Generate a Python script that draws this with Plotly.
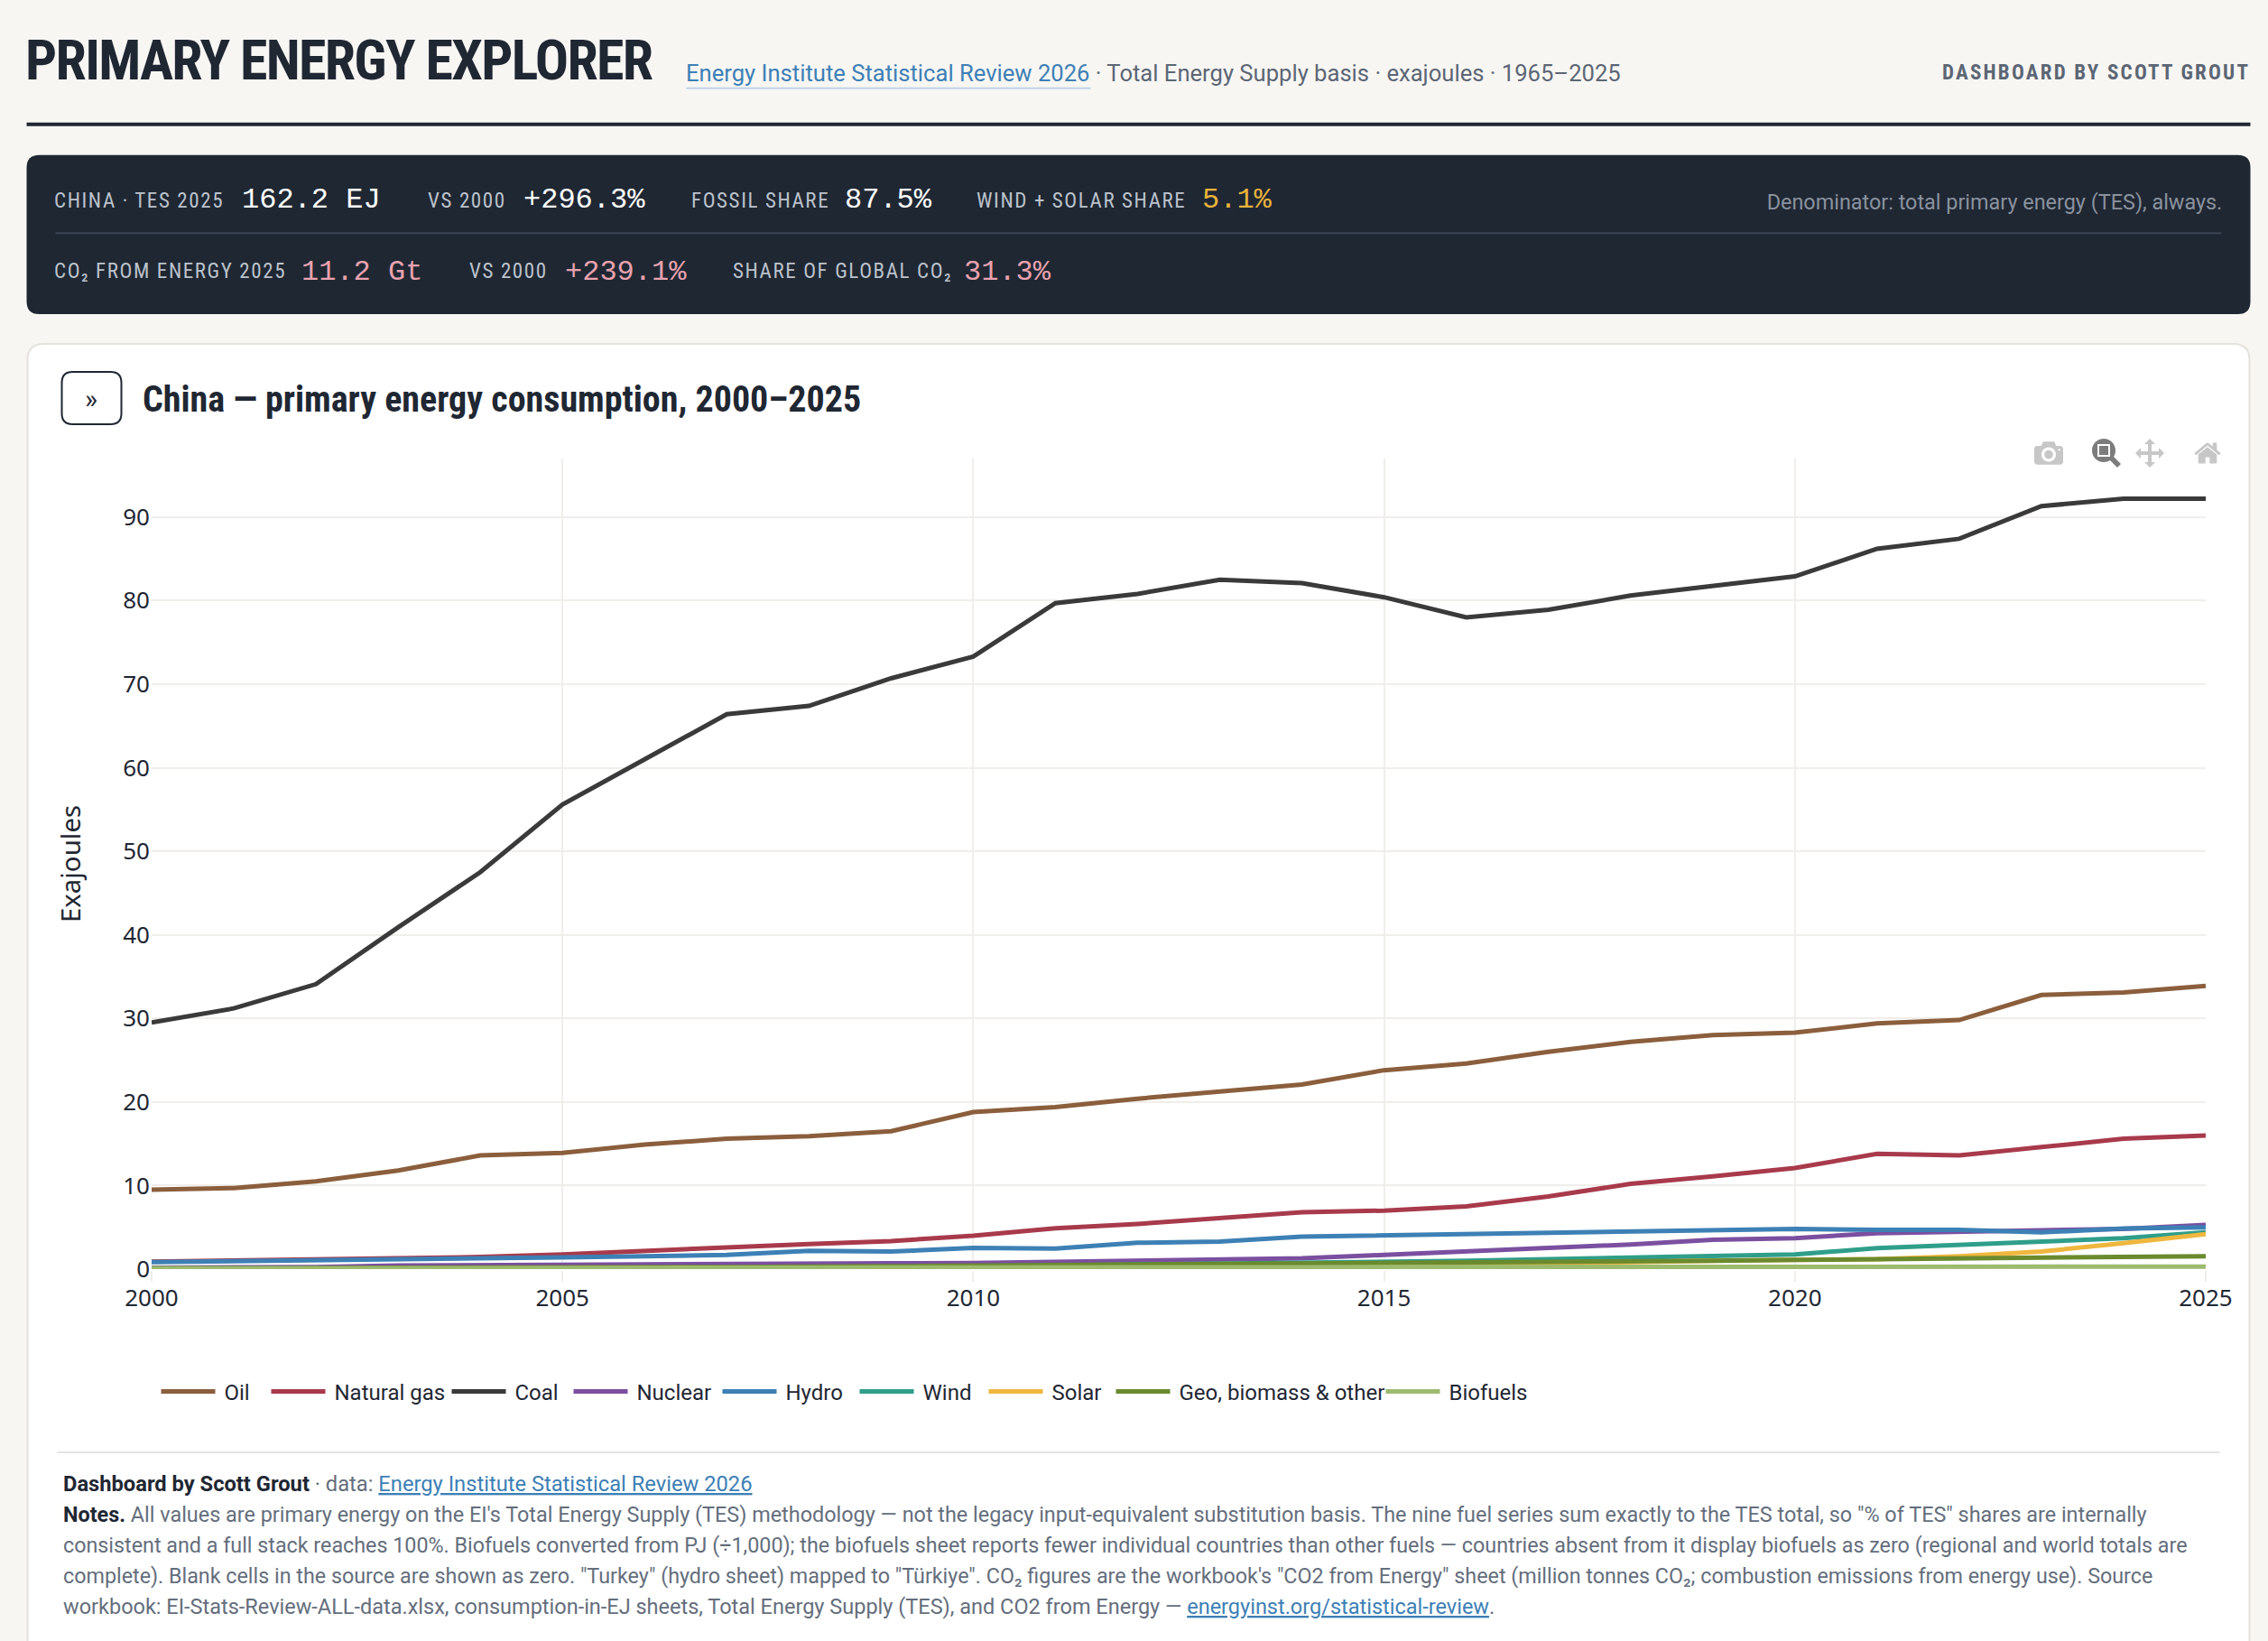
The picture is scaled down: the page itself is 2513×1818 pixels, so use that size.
import plotly.graph_objects as go

years = list(range(2000, 2026))
oil = [9.5, 9.7, 10.5, 11.8, 13.6, 13.9, 14.9, 15.6, 15.9, 16.5, 18.8, 19.4, 20.4, 21.3, 22.1, 23.8, 24.6, 26.0, 27.2, 28.0, 28.3, 29.4, 29.8, 32.8, 33.1, 33.9]
gas = [0.9, 1.0, 1.1, 1.25, 1.45, 1.75, 2.1, 2.6, 3.0, 3.35, 4.0, 4.9, 5.4, 6.1, 6.8, 7.0, 7.5, 8.7, 10.2, 11.1, 12.1, 13.8, 13.6, 14.6, 15.6, 16.0]
coal = [29.5, 31.2, 34.1, 40.9, 47.5, 55.6, 61.0, 66.4, 67.4, 70.7, 73.3, 79.7, 80.8, 82.5, 82.1, 80.4, 78.0, 78.9, 80.6, 81.8, 82.9, 86.2, 87.4, 91.3, 92.2, 92.2]
nuclear = [0.17, 0.18, 0.25, 0.43, 0.5, 0.53, 0.55, 0.62, 0.68, 0.7, 0.74, 0.86, 0.97, 1.1, 1.3, 1.7, 2.1, 2.5, 2.95, 3.5, 3.7, 4.3, 4.55, 4.65, 4.8, 5.3]
hydro = [0.85, 0.95, 1.0, 1.05, 1.25, 1.4, 1.55, 1.7, 2.2, 2.1, 2.55, 2.45, 3.15, 3.3, 3.9, 4.05, 4.2, 4.25, 4.45, 4.6, 4.8, 4.7, 4.7, 4.4, 4.85, 5.0]
wind = [0.0, 0.0, 0.0, 0.0, 0.01, 0.02, 0.04, 0.05, 0.1, 0.2, 0.3, 0.45, 0.58, 0.75, 0.84, 0.9, 1.0, 1.2, 1.4, 1.55, 1.75, 2.5, 2.85, 3.3, 3.7, 4.4]
solar = [0.0, 0.0, 0.0, 0.0, 0.0, 0.0, 0.0, 0.0, 0.0, 0.0, 0.01, 0.03, 0.06, 0.14, 0.21, 0.37, 0.6, 0.8, 0.94, 1.0, 1.1, 1.2, 1.55, 2.1, 3.1, 4.2]
geo = [0.1, 0.1, 0.12, 0.13, 0.14, 0.16, 0.2, 0.25, 0.3, 0.35, 0.4, 0.45, 0.5, 0.55, 0.6, 0.65, 0.72, 0.8, 0.9, 1.0, 1.1, 1.2, 1.25, 1.35, 1.45, 1.55]
biofuels = [0.08, 0.08, 0.08, 0.08, 0.1, 0.12, 0.13, 0.14, 0.16, 0.17, 0.18, 0.2, 0.2, 0.22, 0.23, 0.25, 0.25, 0.26, 0.27, 0.27, 0.28, 0.28, 0.28, 0.28, 0.29, 0.3]

fuel_names = ["Oil", "Natural gas", "Coal", "Nuclear", "Hydro", "Wind", "Solar", "Geo, biomass & other", "Biofuels"]
fuel_values = [oil, gas, coal, nuclear, hydro, wind, solar, geo, biofuels]
fuel_colors = ["#8b5e3c", "#a83a4b", "#3a3a3a", "#7b4fa0", "#3d80b5", "#2f9e8a", "#efb73e", "#6b8a2e", "#9dbb6f"]
legend_x = [168, 290, 490, 625, 790, 942, 1085, 1226, 1525]

kpi_row1 = [("CHINA · TES 2025", "162.2 EJ", "#ffffff"), ("VS 2000", "+296.3%", "#ffffff"),
            ("FOSSIL SHARE", "87.5%", "#ffffff"), ("WIND + SOLAR SHARE", "5.1%", "#e9b33d")]
kpi_row2 = [("CO₂ FROM ENERGY 2025", "11.2 Gt", "#e8a2ae"), ("VS 2000", "+239.1%", "#e8a2ae"),
            ("SHARE OF GLOBAL CO₂", "31.3%", "#e8a2ae")]
kpi_row1_x = [(61, 268), (474, 580), (766, 936), (1083, 1333)]
kpi_row2_x = [(61, 335), (521, 627), (813, 1069)]

BLUE = '<span style="color:#3d80b5;text-decoration:underline">%s</span>'
note_lines = [
    "<b style='color:#1f2733'>Dashboard by Scott Grout</b> · data: " + BLUE % "Energy Institute Statistical Review 2026",
    "<b style='color:#1f2733'>Notes.</b> All values are primary energy on the EI's Total Energy Supply (TES) methodology — not the legacy input-equivalent substitution basis. The nine fuel series sum exactly to the TES total, so \"% of TES\" shares are internally",
    "consistent and a full stack reaches 100%. Biofuels converted from PJ (÷1,000); the biofuels sheet reports fewer individual countries than other fuels — countries absent from it display biofuels as zero (regional and world totals are",
    "complete). Blank cells in the source are shown as zero. \"Turkey\" (hydro sheet) mapped to \"Türkiye\". CO₂ figures are the workbook's \"CO2 from Energy\" sheet (million tonnes CO₂; combustion emissions from energy use). Source",
    "workbook: EI-Stats-Review-ALL-data.xlsx, consumption-in-EJ sheets, Total Energy Supply (TES), and CO2 from Energy — " + BLUE % "energyinst.org/statistical-review" + ".",
]
note_y = [1644, 1677.5, 1711.5, 1745.5, 1780]
note_size = [11.85, 11.7, 11.65, 11.65, 11.75]

# reference is a 2x screenshot, so the figure is built at half size and scaled up in the page
W, H = 2513, 1818
L, R, T, B = 167.5, 2443.5, 508, 1405.5

SANS = "Noto Sans"
BODY = "Roboto"
NARROW = "Roboto"
MONO = "Liberation Mono"
INK = "#1f2733"
GREY = "#5c6675"


def xp(px):
    return (px - L) / (R - L)


def yp(py):
    return (B - py) / (B - T)


def rounded(x0, y0, x1, y1, r):
    x0, x1, rx = xp(x0), xp(x1), r / (R - L)
    y0, y1, ry = yp(y0), yp(y1), r / (B - T)
    return (f"M {x0 + rx} {y0} L {x1 - rx} {y0} Q {x1} {y0} {x1} {y0 - ry} L {x1} {y1 + ry} Q {x1} {y1} {x1 - rx} {y1} "
            f"L {x0 + rx} {y1} Q {x0} {y1} {x0} {y1 + ry} L {x0} {y0 - ry} Q {x0} {y0} {x0 + rx} {y0} Z")


def label(x, y, text, size, color, family=BODY, anchor="left", weight=None, spacing=None, narrow=False):
    font = dict(family=family, size=size, color=color)
    if weight:
        font["weight"] = weight
    style = ""
    if narrow:
        style += "font-stretch:condensed;"
    if spacing:
        style += f"letter-spacing:{spacing}px;"
    if style:
        text = f'<span style="{style}">{text}</span>'
    # annotations sit a little in from their anchor
    x = x - 3 if anchor == "left" else x + 3
    return dict(xref="paper", yref="paper", x=xp(x), y=yp(y), text=text, showarrow=False, xanchor=anchor,
                yanchor="middle", align=anchor, font=font, borderpad=0)


def rule(x0, x1, y, color, width):
    return dict(type="line", xref="paper", yref="paper", x0=xp(x0), x1=xp(x1), y0=yp(y), y1=yp(y),
                line=dict(color=color, width=width), layer="below")


shapes = [
    rule(29, 2493, 138, INK, 2),
    dict(type="path", xref="paper", yref="paper", path=rounded(29, 172, 2493, 348, 14), fillcolor=INK, line=dict(width=0), layer="below"),
    rule(61, 2461, 258.5, "#3a4352", 1),
    dict(type="path", xref="paper", yref="paper", path=rounded(30, 381, 2492, 1880, 18), fillcolor="#ffffff", line=dict(color="#e5e2dc", width=1), layer="below"),
    dict(type="path", xref="paper", yref="paper", path=rounded(68, 412, 134, 470, 12), fillcolor="#ffffff", line=dict(color=INK, width=1), layer="below"),
    rule(760, 1208, 98, "#bdd5e8", 1),
    rule(63, 2459, 1608.5, "#e4e4e4", 1),
]

annotations = [
    label(29, 67.5, "PRIMARY ENERGY EXPLORER", 31, INK, NARROW, weight=700, spacing=-0.85, narrow=True),
    label(760, 81, BLUE.replace(";text-decoration:underline", "") % "Energy Institute Statistical Review 2026" + " · Total Energy Supply basis · exajoules · 1965–2025", 12.8, GREY),
    label(2492, 81, "DASHBOARD BY SCOTT GROUT", 11.5, GREY, NARROW, anchor="right", weight=700, spacing=1.1, narrow=True),
    label(2461, 224, "Denominator: total primary energy (TES), always.", 11.7, "#8a929e", anchor="right"),
    label(94, 442, "»", 15, INK),
    label(159, 443, "China — primary energy consumption, 2000–2025", 20, INK, NARROW, weight=700, narrow=True),
]
for row, xs, y_name, y_value in [(kpi_row1, kpi_row1_x, 223, 223), (kpi_row2, kpi_row2_x, 301, 302)]:
    for (name, value, color), (x_name, x_value) in zip(row, xs):
        annotations.append(label(x_name, y_name, name, 11.5, "#bcc3cc", NARROW, spacing=0.8, narrow=True))
        annotations.append(label(x_value, y_value, value, 16, color, MONO))
for text, y, size in zip(note_lines, note_y, note_size):
    annotations.append(label(70.5, y, text, size, "#646e7c"))

fig = go.Figure()
legends = {}
for i, (name, values, color, x_px) in enumerate(zip(fuel_names, fuel_values, fuel_colors, legend_x)):
    key = "legend" if i == 0 else f"legend{i + 1}"
    fig.add_trace(go.Scatter(x=years, y=values, mode="lines", name=name, legend=key, line=dict(color=color, width=2.5)))
    legends[key] = dict(orientation="h", x=xp(x_px), y=yp(1541), xanchor="left", yanchor="middle", itemwidth=30,
                        bgcolor="rgba(0,0,0,0)", font=dict(family=BODY, size=12))

fig.update_layout(
    width=W / 2, height=H / 2,
    margin=dict(l=L / 2, r=(W - R) / 2, t=T / 2, b=(H - B) / 2, pad=0),
    paper_bgcolor="#f8f6f3", plot_bgcolor="#ffffff",
    font=dict(family=SANS, size=13, color=INK),
    xaxis=dict(range=[2000, 2025], tickmode="array", tickvals=[2000, 2005, 2010, 2015, 2020, 2025], showgrid=True,
               gridcolor="#f0eeeb", ticks="outside", ticklen=6, tickcolor="#f0eeeb", zeroline=False, ticklabelstandoff=-2),
    yaxis=dict(range=[0, 97], tickmode="array", tickvals=list(range(0, 100, 10)), showgrid=True, gridcolor="#f0eeeb",
               zeroline=False, title=dict(text="Exajoules", standoff=19, font=dict(size=14.7))),
    modebar=dict(bgcolor="rgba(0,0,0,0)", color="rgba(68,68,68,0.3)", activecolor="rgba(68,68,68,0.7)"),
    shapes=shapes,
    annotations=annotations,
    showlegend=True,
    **legends,
)

config = dict(displayModeBar=True, displaylogo=False, modeBarButtons=[["toImage"], ["zoom2d", "pan2d"], ["resetScale2d"]])
page_js = """
document.body.style.margin = '0';
document.body.style.overflow = 'hidden';
document.body.style.background = '#f8f6f3';
var gd = document.getElementById('{plot_id}');
gd.style.transform = 'scale(2)';
gd.style.transformOrigin = '0 0';
var css = document.createElement('style');
css.textContent = '.modebar-container{top:238px !important;} .modebar{right:21.4px !important;}';
document.head.appendChild(css);
"""
fig.write_html("out.html", config=config, post_script=page_js)
